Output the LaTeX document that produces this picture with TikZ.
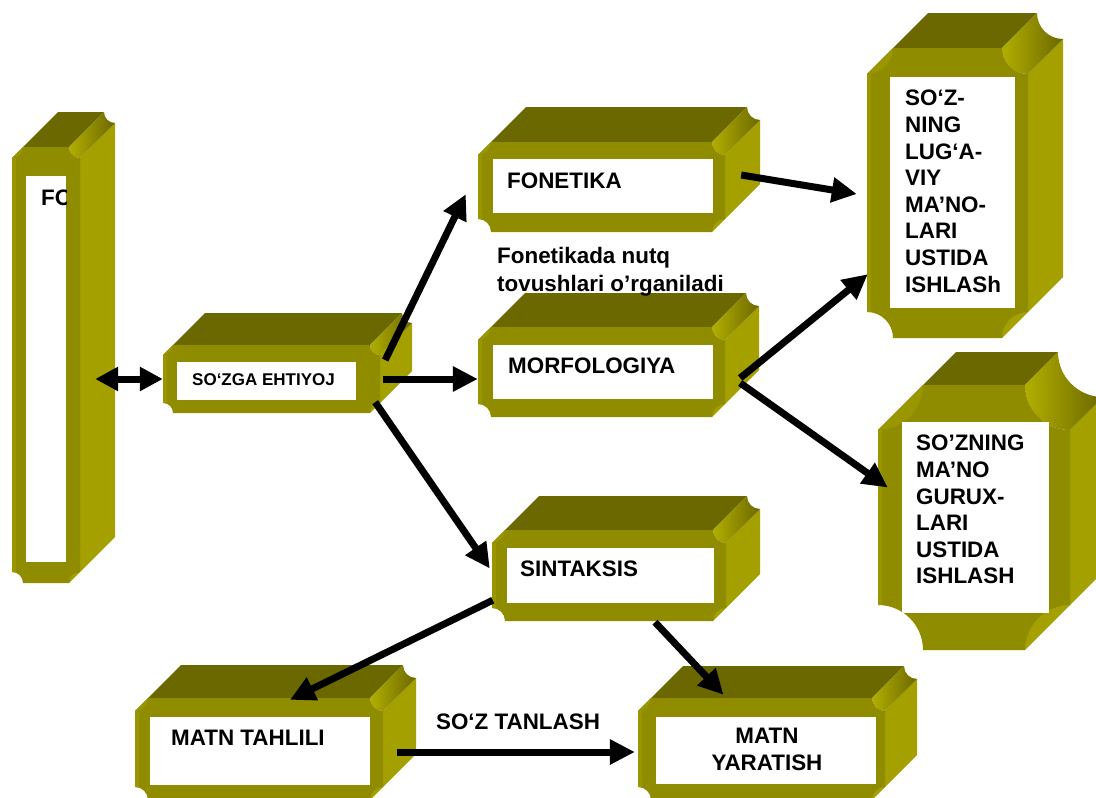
\documentclass[tikz,border=0pt]{standalone}
\usepackage{fontspec}
\setmainfont{Liberation Sans}
\usetikzlibrary{arrows.meta,calc}

\definecolor{cubefront}{RGB}{144,140,0}
\definecolor{cubetop}{RGB}{107,104,0}
\definecolor{cubeside}{RGB}{164,160,0}
\definecolor{cubebevel}{RGB}{154,150,0}

% olive cube: name, front top left (#2,#3), front bottom right (#4,#5), notch, depth
\newcommand{\olivecube}[7]{%
	\fill[cubeside] ({#4},{#3+#6}) -- ({#4+#7},{#3+#6-#7}) -- ({#4+#7},{#5-#6-#7}) -- ({#4-#6},{#5}) -- ({#4-#6},{#3+#6}) -- cycle;
	\fill[cubetop] ({#2},{#3+#6}) -- ({#2+#6+#7},{#3-#7}) -- ({#4-#6+#7},{#3-#7}) -- ({#4-#6},{#3}) -- cycle;
	\shade[left color=cubeside!85!yellow, right color=cubetop] ({#4-#6},{#3}) arc[start angle=180, end angle=90, radius=#6]
		-- ({#4+#7},{#3+#6-#7}) arc[start angle=90, end angle=180, radius=#6] -- cycle;
	\fill[cubebevel] ({#2},{#3+#6}) -- ({#2+#6},{#3}) -- ({#2+#6},{#3+#6}) -- cycle;
	\fill[cubefront] ({#2+#6},{#3}) -- ({#4-#6},{#3}) arc[start angle=180, end angle=90, radius=#6]
		-- ({#4},{#5-#6}) arc[start angle=270, end angle=180, radius=#6]
		-- ({#2+#6},{#5}) arc[start angle=0, end angle=-90, radius=#6]
		-- ({#2},{#3+#6}) arc[start angle=90, end angle=0, radius=#6] -- cycle;
	\fill[cubebevel] ({#2},{#3+#6}) rectangle ({#2+4},{#5-#6});
	\node[inner sep=0pt, minimum width={(#4-#2)*1pt}, minimum height={(#5-#3)*1pt}] (#1) at ({(#2+#4)/2},{(#3+#5)/2}) {};
}

\begin{document}
\begin{tikzpicture}[x=1pt, y=1pt, yscale=-1,
	lbl/.style={font=\bfseries\fontsize{22.4}{26.6}\selectfont, inner sep=0pt, align=left},
	smalllbl/.style={font=\bfseries\fontsize{17}{20}\selectfont, inner sep=0pt},
	link/.style={line width=7pt, -{Triangle[length=25pt, width=24pt]}},
	biarrow/.style={line width=7pt, {Triangle[length=23pt, width=23pt]}-{Triangle[length=23pt, width=23pt]}}]
	\useasboundingbox (0,0) rectangle (1096,798);
	\clip (0,0) rectangle (1096,798);
	%cubes
	\foreach \cube/\xa/\ya/\xb/\yb/\nch/\dpt/\wxa/\wya/\wxb/\wyb in {
		fo/12/147/80/583/11/35/26/176/66/562,
		ehtiyoj/163/345/380/413/10/32/177/362/356/400,
		fon/478/142/725/232/13/35/493/159/713/213,
		morf/478/327/725/417/13/34/493/345/713/399,
		luga/867/48/1028/338/26/35/890/77/1015/308,
		guruh/878/385/1070/650/45/33/902/422/1049/613,
		sint/492/530/726/621/13/34/507/548/714/603,
		tahlil/135/698/383/800/13/33/150/717/370/785,
		yarat/638/698/885/800/13/32/656/717/876/784
	}
	{
		\olivecube{\cube}{\xa}{\ya}{\xb}{\yb}{\nch}{\dpt}
		\fill[white] (\wxa,\wya) rectangle (\wxb,\wyb);
	}
	%labels
	\begin{scope}
		\clip (26,176) rectangle (66,562);
		\node[lbl, anchor=west] (fo-txt) at (41,198) {FO};
	\end{scope}
	\node[smalllbl, anchor=west] (ehtiyoj-txt) at (192,380) {SO‘ZGA EHTIYOJ};
	\node[lbl, anchor=west] (fon-txt) at (507,181) {FONETIKA};
	\node[lbl, anchor=north west, font=\bfseries\fontsize{22.4}{28}\selectfont] (fon-note) at (497,247) {Fonetikada nutq\\tovushlari o’rganiladi};
	\node[lbl, anchor=west] (morf-txt) at (508,366) {MORFOLOGIYA};
	\node[lbl, anchor=west] (sint-txt) at (520,569) {SINTAKSIS};
	\node[lbl, anchor=west] (tahlil-txt) at (171,738) {MATN TAHLILI};
	\node[lbl, align=center, anchor=north] (yarat-txt) at (767,728) {MATN\\YARATISH};
	\node[lbl, anchor=north west] (luga-txt) at (905,90) {SO‘Z-\\NING\\LUG‘A-\\VIY\\MA’NO-\\LARI\\USTIDA\\ISHLASh};
	\node[lbl, anchor=north west] (guruh-txt) at (916,435) {SO’ZNING\\MA’NO\\GURUX-\\LARI\\USTIDA\\ISHLASH};
	\node[lbl] (tanlash) at (518,722) {SO‘Z TANLASH};
	%arrows
	\draw[biarrow] ($(fo.east |- ehtiyoj.west)+(15,0)$) -- (ehtiyoj.west);
	\draw[link] ($(ehtiyoj.east)+(5,-19)$) -- ($(fon.south west)+(-12,-38)$);
	\draw[link] ($(ehtiyoj.east)+(3,0)$) -- (morf.west |- ehtiyoj.east);
	\draw[link] ($(ehtiyoj.south east)+(-5,-11)$) -- ($(sint.west)+(-2,-7)$);
	\draw[link] ($(fon.east)+(16,-12)$) -- ($(luga.west)+(-10,1)$);
	\draw[link] ($(morf.east)+(15,6)$) -- ($(luga.south west)+(1,-64)$);
	\draw[link] ($(morf.east)+(15,11)$) -- ($(guruh.west)+(10,-30)$);
	\draw[link] ($(sint.south west)+(1,-21)$) -- ($(tahlil.north)+(31,2)$);
	\draw[link] ($(sint.south)+(46,1)$) -- ($(yarat.north)+(-38,-3)$);
	\draw[link] ($(tahlil.east)+(14,3)$) -- ($(yarat.west)+(-3,3)$);
\end{tikzpicture}
\end{document}
